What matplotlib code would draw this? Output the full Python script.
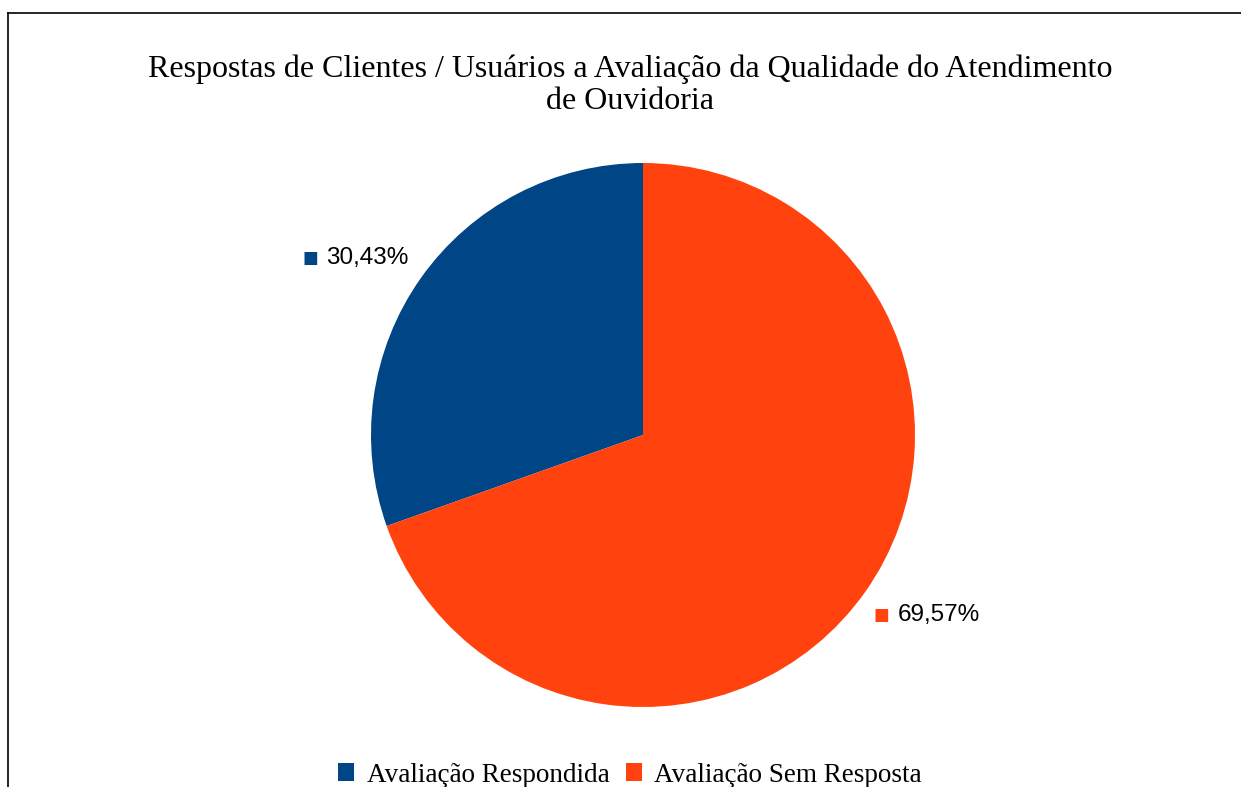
import matplotlib
matplotlib.use("Agg")
import matplotlib.pyplot as plt
from matplotlib.patches import Patch
from matplotlib.lines import Line2D
import numpy as np

categorias = ["Avaliação Respondida", "Avaliação Sem Resposta"]
valores = [30.43, 69.57]
rotulos = ["30,43%", "69,57%"]
cores = ["#004586", "#ff420e"]
titulo = "Respostas de Clientes / Usuários a Avaliação da Qualidade do Atendimento\nde Ouvidoria"

W, H = 1241, 787
fig = plt.figure(figsize=(W / 100, H / 100), dpi=100)

# borda (só topo e esquerda aparecem)
fig.add_artist(Line2D([8 / W, 8 / W], [0, 1 - 13 / H], color="black", lw=1.2))
fig.add_artist(Line2D([8 / W, 1], [1 - 13 / H, 1 - 13 / H], color="black", lw=1.2))

cx, cy, r = 643, 435, 272
ax = fig.add_axes([(cx - r) / W, (H - cy - r) / H, 2 * r / W, 2 * r / H])
wedges, _ = ax.pie(valores, colors=cores, startangle=90, counterclock=True,
                   radius=1, wedgeprops=dict(linewidth=0))
ax.set_xlim(-1, 1)
ax.set_ylim(-1, 1)
ax.set_aspect("equal")
ax.axis("off")

for w, lab, c in zip(wedges, rotulos, cores):
    ang = np.deg2rad((w.theta1 + w.theta2) / 2)
    x, y = 1.055 * np.cos(ang), 1.055 * np.sin(ang)
    va = "bottom" if y > 0 else "top"
    if x < 0:
        t = ax.text(x, y, lab, ha="right", va=va, fontsize=17.5,
                    family="Liberation Sans", clip_on=False)
        ax.annotate("■", xy=(0, 0.5), xycoords=t, xytext=(-6, 0),
                    textcoords="offset points", ha="right", va="center",
                    color=c, fontsize=12, family="DejaVu Sans")
    else:
        s = ax.text(x - 0.015, y - 0.02, "■", ha="left", va=va, color=c,
                    fontsize=12, family="DejaVu Sans", clip_on=False)
        ax.annotate(lab, xy=(1, 0.5), xycoords=s, xytext=(6, 0),
                    textcoords="offset points", ha="left", va="center",
                    fontsize=17.5, family="Liberation Sans")

fig.text(630 / W, 1 - 85 / H, titulo, ha="center", va="center",
         fontsize=23, family="Liberation Serif", linespacing=1.15)

handles = [Patch(facecolor=c, edgecolor="none") for c in cores]
fig.legend(handles, categorias, loc="center", bbox_to_anchor=(630 / W, 1 - 775 / H),
           ncol=2, frameon=False, handlelength=0.6, handleheight=0.6,
           handletextpad=0.45, columnspacing=0.6,
           prop=dict(family="Liberation Serif", size=19.5))

fig.savefig("out.png", dpi=100)
